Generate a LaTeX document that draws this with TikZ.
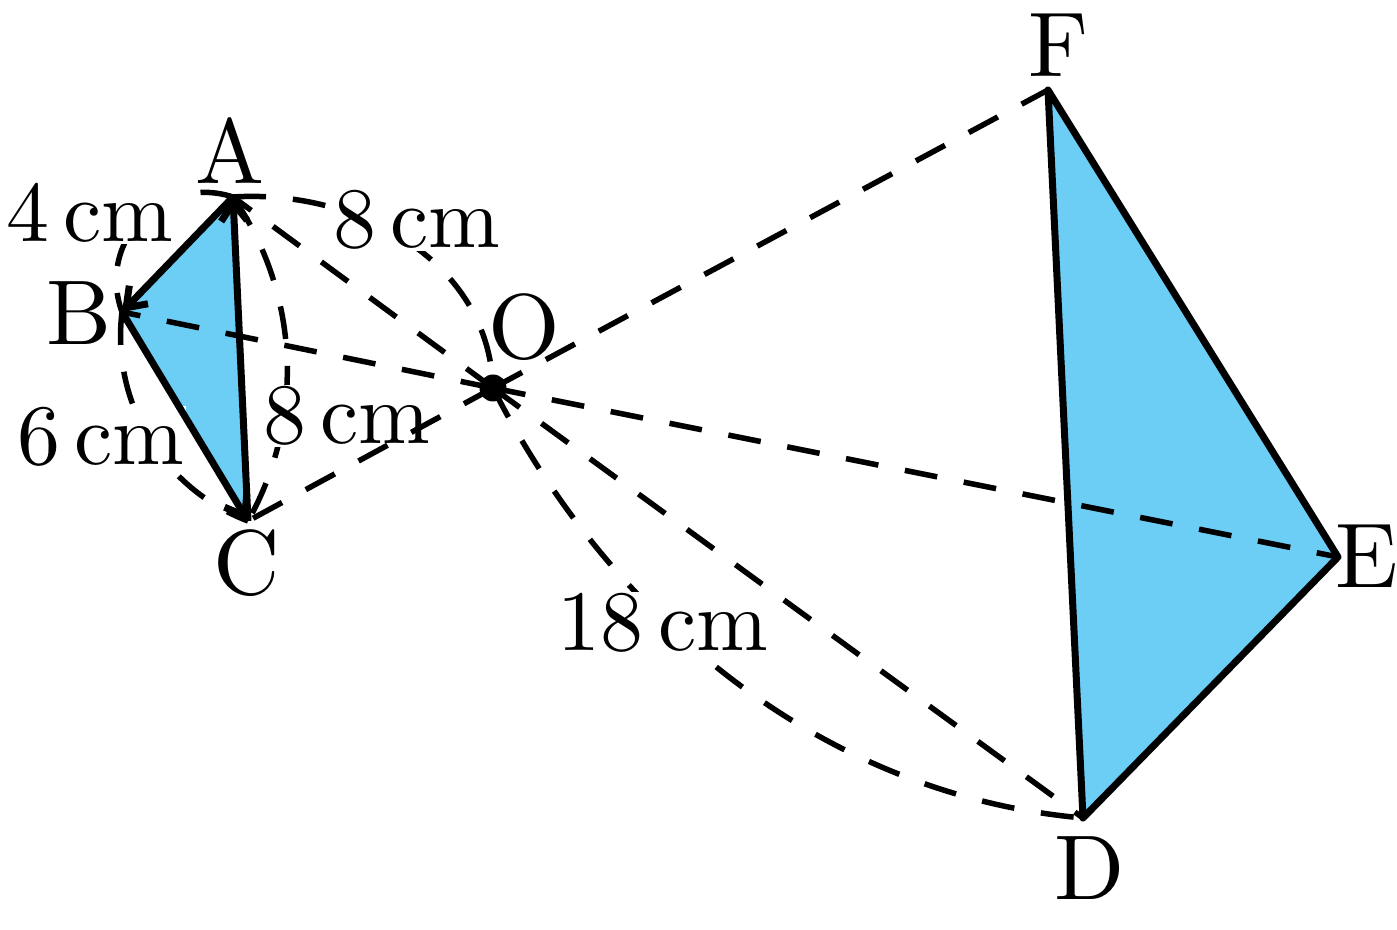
\documentclass[tikz,border=0pt]{standalone}
\usepackage{fontspec}
\setmainfont{lmroman10-regular.otf}
\usetikzlibrary{calc,arrows.meta}
\definecolor{triblue}{RGB}{108,205,245}
\begin{document}
\begin{tikzpicture}[x=0.5pt,y=-0.5pt,
  dimarc/.style={line width=2.75pt, dash pattern=on 16.5pt off 13.5pt},
  ray/.style={line width=2.75pt, dash pattern=on 16.5pt off 13.5pt},
  edge/.style={line width=3.5pt, line join=round},
  tipped/.style={-{Straight Barb[length=9pt,width=13pt]}},
  vlab/.style={font=\fontsize{46}{50}\selectfont, inner sep=0pt},
  mlab/.style={font=\fontsize{43}{50}\selectfont, fill=white, inner sep=0.5pt},
]
\useasboundingbox (0,0) rectangle (1397,930);
% vertices
\coordinate (A) at (233,197);
\coordinate (B) at (122,312);
\coordinate (C) at (248,521);
\coordinate (O) at (493,388);
\coordinate (F) at (1048,90);
\coordinate (E) at (1338,557);
\coordinate (D) at (1083,818);
% fills
\fill[triblue] (A) -- (B) -- (C) -- cycle;
\fill[triblue] (D) -- (E) -- (F) -- cycle;
% dimension arcs
\draw[dimarc] (A) .. controls ($(A)!0.47!-64:(B)$) and ($(B)!0.47!64:(A)$) .. (B);
\draw[dimarc] (B) .. controls ($(B)!0.373!-38:(C)$) and ($(C)!0.373!38:(B)$) .. (C);
\draw[dimarc] (A) .. controls ($(A)!0.361!32:(C)$) and ($(C)!0.361!-32:(A)$) .. (C);
\draw[dimarc] (A) .. controls ($(A)!0.39!40:(O)$) and ($(O)!0.39!-52:(A)$) .. (O);
\draw[dimarc] (O) .. controls ($(O)!0.357!-27:(D)$) and ($(D)!0.357!31:(O)$) .. (D);
% measurement labels
\node[mlab] (m4) at (90,213) {4\,cm};
\node[mlab] (m6) at (101,437) {6\,cm};
\node[mlab] (m8a) at (417,220) {8\,cm};
\node[mlab] (m8b) at (347,416) {8\,cm};
\node[mlab] (m18) at (663,623) {18\,cm};
% rays from O
\draw[ray] (O) -- (A);
\draw[ray] (O) -- (B);
\draw[ray] (O) -- (C);
\draw[ray] (O) -- (F);
\draw[ray] (O) -- (E);
\draw[ray] (O) -- (D);
% triangle edges
\draw[edge,tipped] (A) -- (B);
\draw[edge,tipped] (B) -- (C);
\draw[edge,tipped] (C) -- (A);
\draw[edge] (D) -- (E) -- (F) -- cycle;
% centre
\fill (O) circle[radius=13.5];
% vertex labels
\node[vlab] (lA) at (230,151) {A};
\node[vlab] (lB) at (79,313) {B};
\node[vlab] (lC) at (247,563) {C};
\node[vlab] (lO) at (524,327) {O};
\node[vlab] (lF) at (1059,45) {F};
\node[vlab] (lE) at (1367,556) {E};
\node[vlab] (lD) at (1090,868) {D};
\end{tikzpicture}
\end{document}
